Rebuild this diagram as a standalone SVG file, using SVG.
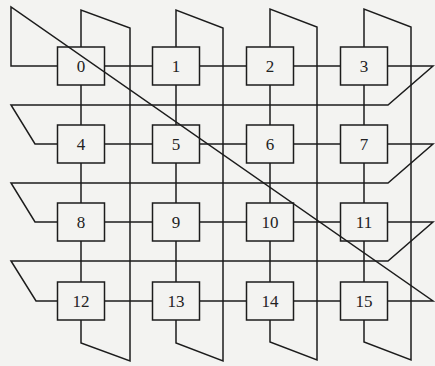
<svg xmlns="http://www.w3.org/2000/svg" width="435" height="366" viewBox="0 0 435 366">
<style>
.bg{fill:#f3f3f1}
.ln{fill:none;stroke:#1c1c1c;stroke-width:1.5;stroke-linejoin:miter}
.box{fill:none;stroke:#1c1c1c;stroke-width:1.5}
.lbl{font-family:"Liberation Serif","Times New Roman",serif;font-size:17px;fill:#222;text-anchor:middle;dominant-baseline:central}
</style>
<rect class="bg" x="0" y="0" width="435" height="366"/>
<g id="connectors">
<!-- row links -->
<path class="ln" d="M104.5,66H152.5M199.5,66H246.5M293.5,66H340.5"/>
<path class="ln" d="M104.5,144H152.5M199.5,144H246.5M293.5,144H340.5"/>
<path class="ln" d="M104.5,222H152.5M199.5,222H246.5M293.5,222H340.5"/>
<path class="ln" d="M104.5,301H152.5M199.5,301H246.5M293.5,301H340.5"/>
<!-- column links -->
<path class="ln" d="M81,85V125M81,163V203M81,241V282"/>
<path class="ln" d="M176,85V125M176,163V203M176,241V282"/>
<path class="ln" d="M270,85V125M270,163V203M270,241V282"/>
<path class="ln" d="M364,85V125M364,163V203M364,241V282"/>
<!-- column wraps -->
<path class="ln" d="M81,47V10L130,28V361L81,343V320"/>
<path class="ln" d="M176,47V10L223,28V361L176,343V320"/>
<path class="ln" d="M270,47V9L317,27V360L270,342V320"/>
<path class="ln" d="M364,47V9L411,27V360L364,342V320"/>
<!-- row wraps (spiral) -->
<path class="ln" d="M387.5,66H433L388,105H11L35,144H57.5"/>
<path class="ln" d="M387.5,144H433L388,183H11L35,222H57.5"/>
<path class="ln" d="M387.5,222H433L388,261H11L36,301H57.5"/>
<path class="ln" d="M387.5,301H433L11,7V66H57.5"/>
</g>
<g id="n0"><rect class="box" x="57.5" y="47" width="47" height="38"/><text class="lbl" x="81" y="66">0</text></g>
<g id="n1"><rect class="box" x="152.5" y="47" width="47" height="38"/><text class="lbl" x="176" y="66">1</text></g>
<g id="n2"><rect class="box" x="246.5" y="47" width="47" height="38"/><text class="lbl" x="270" y="66">2</text></g>
<g id="n3"><rect class="box" x="340.5" y="47" width="47" height="38"/><text class="lbl" x="364" y="66">3</text></g>
<g id="n4"><rect class="box" x="57.5" y="125" width="47" height="38"/><text class="lbl" x="81" y="144">4</text></g>
<g id="n5"><rect class="box" x="152.5" y="125" width="47" height="38"/><text class="lbl" x="176" y="144">5</text></g>
<g id="n6"><rect class="box" x="246.5" y="125" width="47" height="38"/><text class="lbl" x="270" y="144">6</text></g>
<g id="n7"><rect class="box" x="340.5" y="125" width="47" height="38"/><text class="lbl" x="364" y="144">7</text></g>
<g id="n8"><rect class="box" x="57.5" y="203" width="47" height="38"/><text class="lbl" x="81" y="222">8</text></g>
<g id="n9"><rect class="box" x="152.5" y="203" width="47" height="38"/><text class="lbl" x="176" y="222">9</text></g>
<g id="n10"><rect class="box" x="246.5" y="203" width="47" height="38"/><text class="lbl" x="270" y="222">10</text></g>
<g id="n11"><rect class="box" x="340.5" y="203" width="47" height="38"/><text class="lbl" x="364" y="222">11</text></g>
<g id="n12"><rect class="box" x="57.5" y="282" width="47" height="38"/><text class="lbl" x="81" y="301">12</text></g>
<g id="n13"><rect class="box" x="152.5" y="282" width="47" height="38"/><text class="lbl" x="176" y="301">13</text></g>
<g id="n14"><rect class="box" x="246.5" y="282" width="47" height="38"/><text class="lbl" x="270" y="301">14</text></g>
<g id="n15"><rect class="box" x="340.5" y="282" width="47" height="38"/><text class="lbl" x="364" y="301">15</text></g>
</svg>
